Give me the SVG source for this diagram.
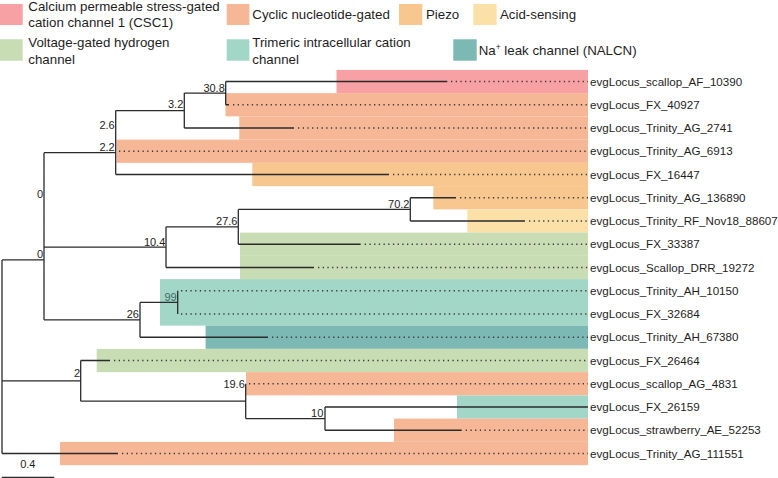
<svg xmlns="http://www.w3.org/2000/svg" width="778" height="478" viewBox="0 0 778 478">
<style>
.lg{font-family:"Liberation Sans",Arial,sans-serif;font-size:13.3px;fill:#1e1e1e}
.lf{font-family:"Liberation Sans",Arial,sans-serif;font-size:11.6px;fill:#1e1e1e}
.bs{font-family:"Liberation Sans",Arial,sans-serif;font-size:11px;fill:#1e1e1e;text-anchor:end}
.br{fill:none;stroke:#2b2b2b;stroke-width:1.3}
.dt{fill:none;stroke:#3a3a3a;stroke-width:1.4;stroke-dasharray:1.3 3.4}
.csc{fill:#F8A1A4}.cng{fill:#F6B796}.pz{fill:#F8C68F}.as{fill:#FBE1A8}.vg{fill:#C8DDB3}.tr{fill:#A2D6C6}.na{fill:#7CB8B4}
</style>
<rect width="778" height="478" fill="#fff"/>
<g id="legend">
<rect class="csc" x="0" y="4" width="22.7" height="21"/>
<text class="lg" x="28.3" y="11">Calcium permeable stress-gated</text>
<text class="lg" x="28.3" y="27">cation channel 1 (CSC1)</text>
<rect class="cng" x="226.7" y="4" width="22.7" height="21"/>
<text class="lg" x="252.3" y="19">Cyclic nucleotide-gated</text>
<rect class="pz" x="399" y="4" width="23.3" height="21"/>
<text class="lg" x="426" y="19">Piezo</text>
<rect class="as" x="473.3" y="4" width="23.3" height="21"/>
<text class="lg" x="500" y="19">Acid-sensing</text>
<rect class="vg" x="0" y="39.3" width="22.7" height="21.4"/>
<text class="lg" x="28.3" y="47">Voltage-gated hydrogen</text>
<text class="lg" x="28.3" y="63.5">channel</text>
<rect class="tr" x="226.7" y="39.3" width="22.7" height="21.4"/>
<text class="lg" x="252.3" y="47">Trimeric intracellular cation</text>
<text class="lg" x="252.3" y="63.5">channel</text>
<rect class="na" x="453.3" y="39.3" width="23.4" height="21.4"/>
<text class="lg" x="478.7" y="55">Na<tspan font-size="8.5" dy="-5">+</tspan><tspan dy="5"> leak channel (NALCN)</tspan></text>
</g>
<g id="bands">
<rect class="csc" x="336.5" y="69.9" width="251.5" height="23.25"/>
<rect class="cng" x="225.5" y="93.1" width="362.5" height="23.25"/>
<rect class="cng" x="239.3" y="116.4" width="348.7" height="23.25"/>
<rect class="cng" x="116.7" y="139.6" width="471.3" height="23.25"/>
<rect class="pz" x="252.3" y="162.9" width="335.7" height="23.25"/>
<rect class="pz" x="433.3" y="186.1" width="154.7" height="23.25"/>
<rect class="as" x="467.3" y="209.4" width="120.7" height="23.25"/>
<rect class="vg" x="240" y="232.6" width="348" height="23.25"/>
<rect class="vg" x="240" y="255.9" width="348" height="23.25"/>
<rect class="tr" x="160" y="279.1" width="428" height="46.5"/>
<rect class="na" x="205.6" y="325.6" width="382.4" height="23.25"/>
<rect class="vg" x="96.7" y="348.9" width="491.3" height="23.25"/>
<rect class="cng" x="246" y="372.1" width="342" height="23.25"/>
<rect class="tr" x="457" y="395.4" width="131" height="23.25"/>
<rect class="cng" x="394" y="418.6" width="194" height="23.25"/>
<rect class="cng" x="60" y="441.9" width="528" height="23.25"/>
</g>
<g id="connectors">
<path class="br" d="M2,259.9V453.5 M2,259.9H44 M2,380.9H80.7 M2,453.5H118
M44,199.9V319.8 M44,152.7V247.2 M44,152.7H115.7 M44,247.2H166 M44,319.8H140
M115.7,110.6V174.5 M115.7,110.6H184.3 M115.7,174.5H389
M184.3,93.1V128 M184.3,93.1H225.7 M184.3,128H294
M225.7,81.5V104.75 M225.7,81.5H447.3 M225.7,104.75H229
M166,226.8V267.5 M166,226.8H238.3 M166,267.5H314
M238.3,209.4V244.25 M238.3,209.4H410.3 M238.3,244.25H360.7
M410.3,197.75V221 M410.3,197.75H456 M410.3,221H525
M140,302.4V337.25 M140,302.4H177.7 M140,337.25H268
M177.7,290.75V314
M80.7,360.5V401.2 M80.7,360.5H110 M80.7,401.2H245.7
M245.7,383.75V418.6 M245.7,418.6H325
M325,407V430.25 M325,407H588 M325,430.25H461.7
M1.7,477.3H54.3"/>
<path class="dt" d="M451,81.5H588 M233,104.75H588 M298,128H588 M119,151.25H588 M393,174.5H588 M460,197.75H588 M529,221H588 M364.7,244.25H588 M318,267.5H588 M181,290.75H588 M181,314H588 M272,337.25H588 M114,360.5H588 M249,383.75H588 M465.7,430.25H588 M122,453.5H588"/>
</g>
<g id="support">
<text class="bs" x="224.8" y="91.5">30.8</text>
<text class="bs" x="183.3" y="108.3">3.2</text>
<text class="bs" x="114.7" y="129.3">2.6</text>
<text class="bs" x="114.7" y="151.3">2.2</text>
<text class="bs" x="43.2" y="198.2">0</text>
<text class="bs" x="43.2" y="258.2">0</text>
<text class="bs" x="165.3" y="245.8">10.4</text>
<text class="bs" x="237.5" y="225.4">27.6</text>
<text class="bs" x="409.5" y="207.8">70.2</text>
<text class="bs" x="176.7" y="300.6" style="fill:#3c6c66">99</text>
<text class="bs" x="139" y="318.2">26</text>
<text class="bs" x="80" y="377.3">2</text>
<text class="bs" x="244.8" y="388.3">19.6</text>
<text class="bs" x="323.3" y="416.8">10</text>
<text class="bs" x="27.8" y="468" style="text-anchor:middle">0.4</text>
</g>
<g id="leaves">
<text class="lf" x="590" y="85.6">evgLocus_scallop_AF_10390</text>
<text class="lf" x="590" y="108.9">evgLocus_FX_40927</text>
<text class="lf" x="590" y="132.1">evgLocus_Trinity_AG_2741</text>
<text class="lf" x="590" y="155.4">evgLocus_Trinity_AG_6913</text>
<text class="lf" x="590" y="178.6">evgLocus_FX_16447</text>
<text class="lf" x="590" y="201.9">evgLocus_Trinity_AG_136890</text>
<text class="lf" x="590" y="225.1">evgLocus_Trinity_RF_Nov18_88607</text>
<text class="lf" x="590" y="248.4">evgLocus_FX_33387</text>
<text class="lf" x="590" y="271.6">evgLocus_Scallop_DRR_19272</text>
<text class="lf" x="590" y="294.9">evgLocus_Trinity_AH_10150</text>
<text class="lf" x="590" y="318.1">evgLocus_FX_32684</text>
<text class="lf" x="590" y="341.4">evgLocus_Trinity_AH_67380</text>
<text class="lf" x="590" y="364.6">evgLocus_FX_26464</text>
<text class="lf" x="590" y="387.9">evgLocus_scallop_AG_4831</text>
<text class="lf" x="590" y="411.1">evgLocus_FX_26159</text>
<text class="lf" x="590" y="434.4">evgLocus_strawberry_AE_52253</text>
<text class="lf" x="590" y="457.6">evgLocus_Trinity_AG_111551</text>
</g>
</svg>
